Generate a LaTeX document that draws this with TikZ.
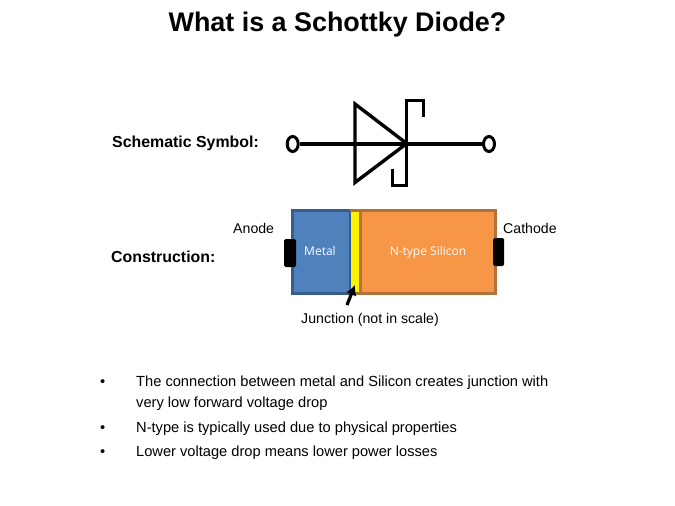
\documentclass[tikz,border=0pt]{standalone}
\usepackage{fontspec}
\setmainfont{Liberation Sans}
\newfontfamily\metalfont{Open Sans}
\usetikzlibrary{shapes.geometric,arrows.meta}
\definecolor{metalblue}{HTML}{4F81BD}
\definecolor{metaledge}{HTML}{385D8A}
\definecolor{siorange}{HTML}{F79646}
\definecolor{siedge}{HTML}{B1713A}
\tikzset{
  sym/.style={line width=3.4pt,line join=miter,black},
  term/.style={draw=black,line width=3pt,ellipse,minimum width=11pt,minimum height=15pt,inner sep=0pt,fill=white},
  lab/.style={font=\fontsize{14.15}{17}\selectfont,text=black,inner sep=0pt},
  heading/.style={font=\fontsize{15.9}{19}\selectfont\bfseries,text=black,inner sep=0pt},
  body/.style={font=\fontsize{14.65}{17}\selectfont,text=black,inner sep=0pt,anchor=base west},
  region/.style={line width=3pt,inner sep=0pt},
  tab/.style={fill=black,draw=none,rounded corners=1.5pt,inner sep=0pt},
  inner label/.style={font=\metalfont\fontsize{12}{15}\selectfont,text=white,inner sep=0pt}
}
\begin{document}
\begin{tikzpicture}[x=1pt,y=-1pt]
\useasboundingbox[fill=white] (0,0) rectangle (675,506);
\node[inner sep=0pt,font=\fontsize{26.9}{30}\selectfont\bfseries] (title) at (337.5,25) {What is a Schottky Diode?};
% symbol
\node[term] (tl) at (292.7,144) {};
\node[term] (tr) at (489,144) {};
\coordinate (apex) at (406.7,143.5);
\draw[sym] (tl) -- (tr);
\draw[sym,line join=miter] (355,104) -- (apex) -- (355,182.5) -- cycle;
\draw[sym] (423.3,117) -- (423.3,100.7) -- (406.7,100.7) -- (406.7,185.7) -- (392.3,185.7) -- (392.3,169);
\node[heading,anchor=base west] (s) at (112,147) {Schematic Symbol:};
\node[heading,anchor=base west] (c) at (111,262) {Construction:};
% construction
\node[region,draw=metaledge,fill=metalblue,minimum width=58pt,minimum height=83pt] (metal) at (321,252) {};
\node[region,draw=siedge,fill=siorange,minimum width=135pt,minimum height=83pt] (si) at (427.5,252) {};
\node[region,fill=yellow,draw=none,minimum width=8pt,minimum height=81pt] (j) at (355,252) {};
\draw[line width=3pt,siedge] (350,210.5) -- (360,210.5);
\draw[line width=3pt,siedge] (350,293.5) -- (360,293.5);
\node[tab,minimum width=12pt,minimum height=28pt] (ta) at (290,253) {};
\node[tab,minimum width=11pt,minimum height=28pt] (tc) at (498.5,252) {};
\node[inner label] at (320,251) {Metal};
\node[inner label] at (428,252) {N-type Silicon};
\node[lab,anchor=base west] (an) at (233,233) {Anode};
\node[lab,anchor=base west] (ca) at (503,233) {Cathode};
\node[lab,anchor=base west] (ju) at (301,323) {Junction (not in scale)};
\coordinate (tail) at (347,305);
\coordinate (tip) at (355,285);
\draw[line width=3.2pt,-{Latex[length=10pt,width=11pt]},black] (tail) -- (tip);
% bullets
\foreach \y/\t in {386/{The connection between metal and Silicon creates junction with},
                   407/{very low forward voltage drop},
                   432/{N-type is typically used due to physical properties},
                   456/{Lower voltage drop means lower power losses}}
  {\node[body] at (136,\y) {\t};}
\foreach \y in {386,432,456}
  {\node[body] at (100,\y) {•};}
\end{tikzpicture}
\end{document}
